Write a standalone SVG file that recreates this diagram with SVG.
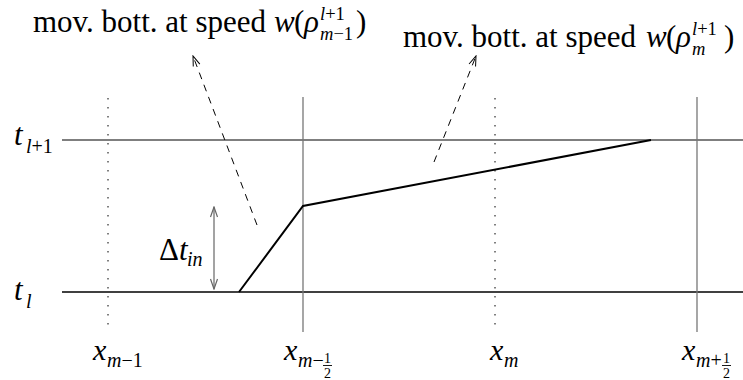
<svg xmlns="http://www.w3.org/2000/svg" width="743" height="380" viewBox="0 0 743 380">
<defs>
<style>
text{font-family:"Liberation Serif","Times New Roman",serif;fill:#000}
.m{font-size:30px}
.L{font-size:31px}
.s{font-size:20px}
.ss{font-size:18.5px}
.f{font-size:14px}
.i{font-style:italic}
.grid{stroke:#777;stroke-width:1.3;fill:none}
.dot{stroke:#000;stroke-width:1;stroke-dasharray:1.5 7.5;fill:none}
.dash{stroke:#000;stroke-width:1;stroke-dasharray:7 6;fill:none}
</style>
<marker id="ah" markerWidth="12" markerHeight="12" refX="11" refY="6" orient="auto" markerUnits="userSpaceOnUse">
<path d="M1,2.5 L11,6 L1,9.5" fill="none" stroke="#000" stroke-width="1"/>
</marker>
<marker id="ag" markerWidth="12" markerHeight="12" refX="11" refY="6" orient="auto-start-reverse" markerUnits="userSpaceOnUse">
<path d="M1,2.5 L11,6 L1,9.5" fill="none" stroke="#666" stroke-width="1.2"/>
</marker>
</defs>

<g id="grid">
<line class="grid" x1="62" y1="140" x2="743" y2="140" style="stroke:#555"/>
<line x1="62" y1="292" x2="743" y2="292" stroke="#000" stroke-width="1.3"/>
<line class="grid" x1="303" y1="97" x2="303" y2="332"/>
<line class="grid" x1="697" y1="97" x2="697" y2="332"/>
<line class="dot" x1="108" y1="98" x2="108" y2="330"/>
<line class="dot" x1="495" y1="98" x2="495" y2="330"/>
</g>

<g id="bottom-profile">
<polyline points="239,292 303,206 651,140" fill="none" stroke="#000" stroke-width="2"/>
</g>

<g id="connectors">
<line class="dash" x1="257" y1="225" x2="193" y2="56" marker-end="url(#ah)"/>
<line class="dash" x1="434" y1="162" x2="476" y2="56" marker-end="url(#ah)"/>
<line x1="214" y1="207" x2="214" y2="289" stroke="#666" stroke-width="1.2" marker-start="url(#ag)" marker-end="url(#ag)"/>
</g>

<g id="label-left">
<text class="L" x="33" y="32">mov. bott. at speed</text>
<text class="L i" x="274" y="32">w</text>
<text class="L" x="294" y="32">(</text>
<text class="L i" x="304" y="32">ρ</text>
<text class="ss" x="320" y="20"><tspan class="i">l</tspan>+1</text>
<text class="ss" x="320" y="40"><tspan class="i">m</tspan>−1</text>
<text class="L" x="356" y="32">)</text>
</g>

<g id="label-right">
<text class="L" x="403" y="47">mov. bott. at speed</text>
<text class="L i" x="646" y="47">w</text>
<text class="L" x="666" y="47">(</text>
<text class="L i" x="676" y="47">ρ</text>
<text class="ss" x="692" y="35"><tspan class="i">l</tspan>+1</text>
<text class="ss i" x="692" y="55">m</text>
<text class="L" x="724" y="47">)</text>
</g>

<g id="label-t-l1">
<text class="L i" x="14" y="145">t</text>
<text class="s" x="26" y="153"><tspan class="i">l</tspan>+1</text>
</g>
<g id="label-t-l">
<text class="L i" x="14" y="300">t</text>
<text class="s i" x="26" y="308">l</text>
</g>
<g id="label-dt">
<text class="L" x="159" y="260">Δ<tspan class="i">t</tspan></text>
<text class="s i" x="187" y="266">in</text>
</g>

<g id="label-xm-1">
<text class="m i" x="93" y="360">x</text>
<text class="s" x="107" y="367"><tspan class="i">m</tspan>−1</text>
</g>
<g id="label-xm-half">
<text class="m i" x="284" y="360">x</text>
<text class="s" x="298" y="367"><tspan class="i">m</tspan>−</text>
<text class="f" x="324" y="363">1</text>
<line x1="323" y1="365.5" x2="332" y2="365.5" stroke="#000" stroke-width="0.9"/>
<text class="f" x="324" y="378">2</text>
</g>
<g id="label-xm">
<text class="m i" x="490" y="360">x</text>
<text class="s i" x="504" y="367">m</text>
</g>
<g id="label-xm+half">
<text class="m i" x="682" y="360">x</text>
<text class="s" x="696" y="367"><tspan class="i">m</tspan>+</text>
<text class="f" x="723" y="363">1</text>
<line x1="722" y1="365.5" x2="731" y2="365.5" stroke="#000" stroke-width="0.9"/>
<text class="f" x="723" y="378">2</text>
</g>
</svg>
